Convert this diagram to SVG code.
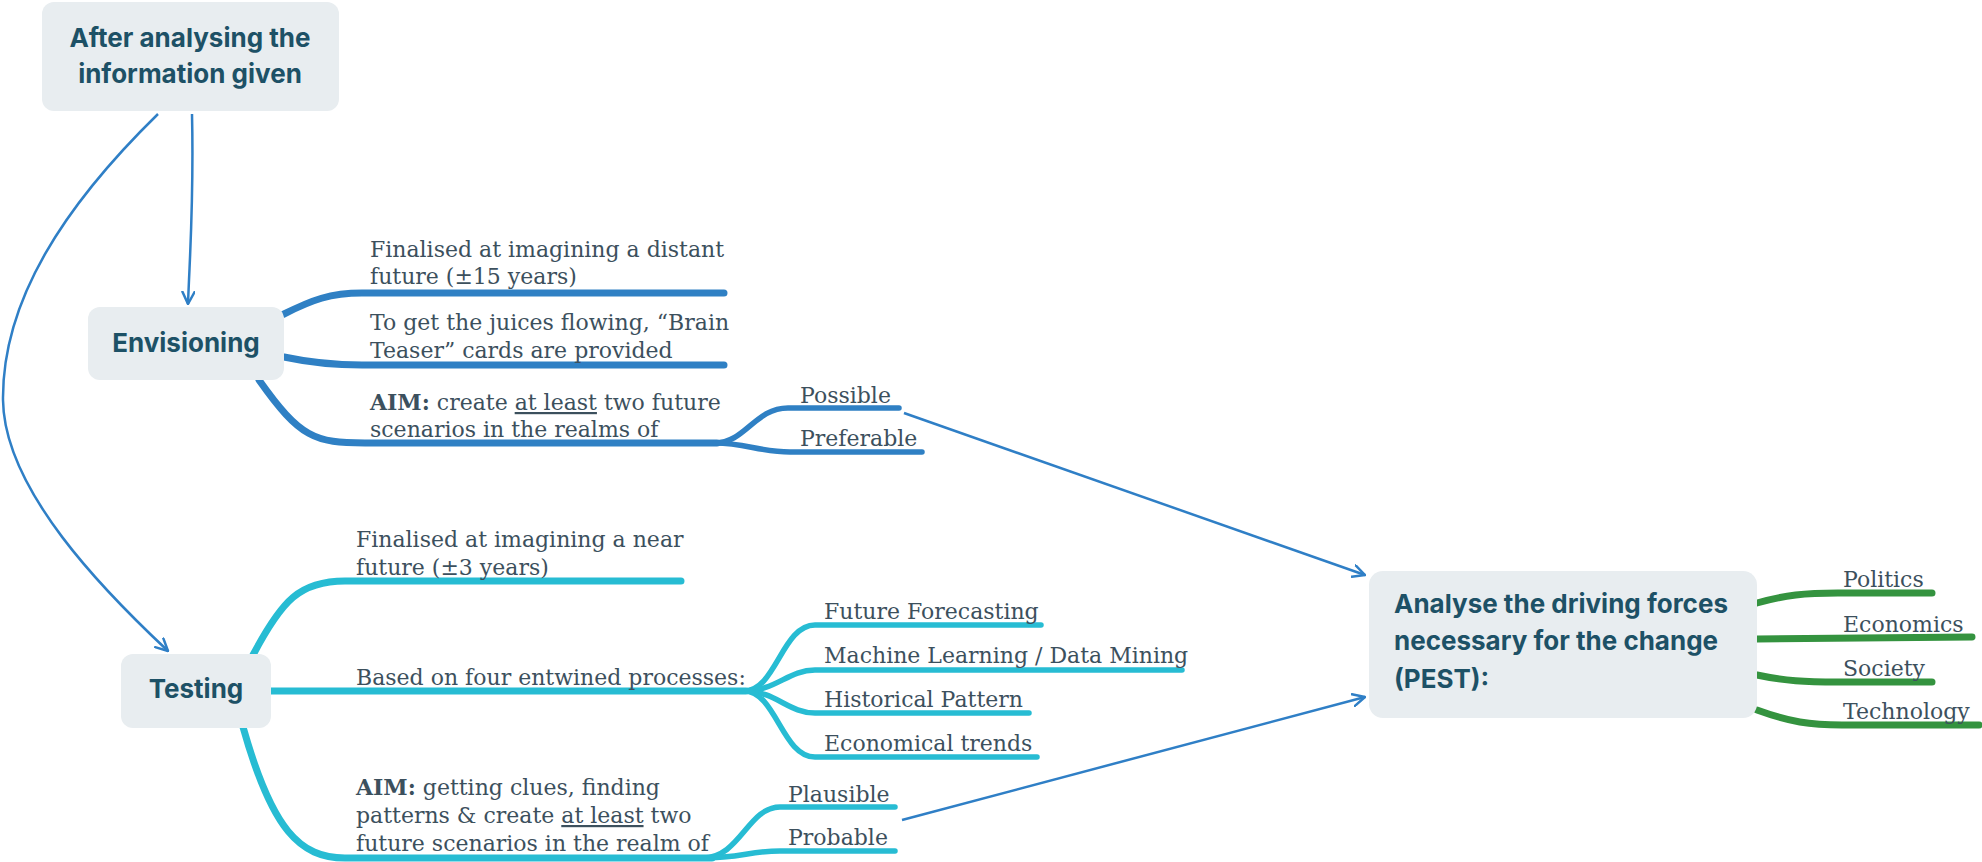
<svg xmlns="http://www.w3.org/2000/svg" width="1982" height="862" viewBox="0 0 1982 862">
<style>
.box{fill:#e8edf0}
.title{font-family:Inter,"Liberation Sans",sans-serif;font-weight:700;font-size:26px;fill:#1d5166}
.t{font-family:"DejaVu Serif","Liberation Serif",serif;font-size:22px;fill:#3c505d}
.b{font-weight:700}
.u{text-decoration:underline}
.blue{fill:none;stroke:#2f80c4;stroke-linecap:round}
.cyan{fill:none;stroke:#27bcd3;stroke-linecap:round}
.green{fill:none;stroke:#34933f;stroke-linecap:round}
.main{stroke-width:7}
.sub{stroke-width:5.5}
.conn{fill:none;stroke:#2f7fc6;stroke-width:2.5}
</style>
<defs>
<marker id="arr" viewBox="0 0 14 14" refX="13" refY="7" markerWidth="14" markerHeight="14" markerUnits="userSpaceOnUse" orient="auto">
<path d="M1,1 L13,7 L1,13" fill="none" stroke="#2f7fc6" stroke-width="2.5" stroke-linecap="round" stroke-linejoin="round"/>
</marker>
</defs>

<g id="connectors">
<path class="conn" d="M192,114 C194,200 190,250 188,304" marker-end="url(#arr)"/>
<path class="conn" d="M158,114 C65,205 2,300 3,400 C4,490 105,592 168,651" marker-end="url(#arr)"/>
<path class="conn" d="M904,413 L1365,575" marker-end="url(#arr)"/>
<path class="conn" d="M902,820 L1365,697" marker-end="url(#arr)"/>
</g>

<g id="node-after">
<rect class="box" x="42" y="2" width="297" height="109" rx="12"/>
<text class="title" x="190" y="47" text-anchor="middle">After analysing the</text>
<text class="title" x="190" y="83" text-anchor="middle">information given</text>
</g>

<g id="node-envisioning">
<path class="blue main" d="M284,314 C312,300 330,293 362,293 L724,293"/>
<path class="blue main" d="M284,357 C312,363 332,365 362,365 L724,365"/>
<path class="blue main" d="M259,380 C300,438 315,443 365,443 L717,443"/>
<path class="blue sub" d="M715,443 C745,443 755,408 788,408 L899,408"/>
<path class="blue sub" d="M715,443 C745,443 760,452 790,452 L922,452"/>
<rect class="box" x="88" y="307" width="196" height="73" rx="12"/>
<text class="title" x="186" y="352" text-anchor="middle">Envisioning</text>
<text class="t" x="370" y="257">Finalised at imagining a distant</text>
<text class="t" x="370" y="284">future (±15 years)</text>
<text class="t" x="370" y="330">To get the juices flowing, “Brain</text>
<text class="t" x="370" y="358">Teaser” cards are provided</text>
<text class="t" x="370" y="410"><tspan class="b">AIM:</tspan> create <tspan class="u">at least</tspan> two future</text>
<text class="t" x="370" y="437">scenarios in the realms of</text>
<text class="t" x="800" y="403">Possible</text>
<text class="t" x="800" y="446">Preferable</text>
</g>

<g id="node-testing">
<path class="cyan main" d="M253,655 C282,600 300,581 345,581 L681,581"/>
<path class="cyan main" d="M271,691 L746,691"/>
<path class="cyan sub" d="M744,691 C776,691 782,625 815,625 L1041,625"/>
<path class="cyan sub" d="M744,691 C776,691 788,670 815,670 L1182,670"/>
<path class="cyan sub" d="M744,691 C776,691 788,713 815,713 L1029,713"/>
<path class="cyan sub" d="M744,691 C776,691 782,757 815,757 L1037,757"/>
<path class="cyan main" d="M243,727 C272,830 300,858 345,858 L712,858"/>
<path class="cyan sub" d="M703,858 C740,858 748,807 780,807 L895,807"/>
<path class="cyan sub" d="M703,858 C740,858 750,851 780,851 L895,851"/>
<rect class="box" x="121" y="654" width="150" height="74" rx="12"/>
<text class="title" x="196" y="698" text-anchor="middle">Testing</text>
<text class="t" x="356" y="547">Finalised at imagining a near</text>
<text class="t" x="356" y="575">future (±3 years)</text>
<text class="t" x="356" y="685">Based on four entwined processes:</text>
<text class="t" x="824" y="619">Future Forecasting</text>
<text class="t" x="824" y="663">Machine Learning / Data Mining</text>
<text class="t" x="824" y="707">Historical Pattern</text>
<text class="t" x="824" y="751">Economical trends</text>
<text class="t" x="356" y="795"><tspan class="b">AIM:</tspan> getting clues, finding</text>
<text class="t" x="356" y="823">patterns &amp; create <tspan class="u">at least</tspan> two</text>
<text class="t" x="356" y="851">future scenarios in the realm of</text>
<text class="t" x="788" y="802">Plausible</text>
<text class="t" x="788" y="845">Probable</text>
</g>

<g id="node-pest">
<path class="green main" d="M1757,603 C1785,595 1805,593 1838,593 L1932,593"/>
<path class="green main" d="M1757,639 L1972,637"/>
<path class="green main" d="M1757,675 C1785,681 1805,682 1838,682 L1932,682"/>
<path class="green main" d="M1757,710 C1790,722 1810,725 1842,725 L1979,725"/>
<rect class="box" x="1369" y="571" width="388" height="147" rx="14"/>
<text class="title" x="1394" y="613">Analyse the driving forces</text>
<text class="title" x="1394" y="650">necessary for the change</text>
<text class="title" x="1394" y="688">(PEST):</text>
<text class="t" x="1843" y="587">Politics</text>
<text class="t" x="1843" y="632">Economics</text>
<text class="t" x="1843" y="676">Society</text>
<text class="t" x="1843" y="719">Technology</text>
</g>
</svg>
